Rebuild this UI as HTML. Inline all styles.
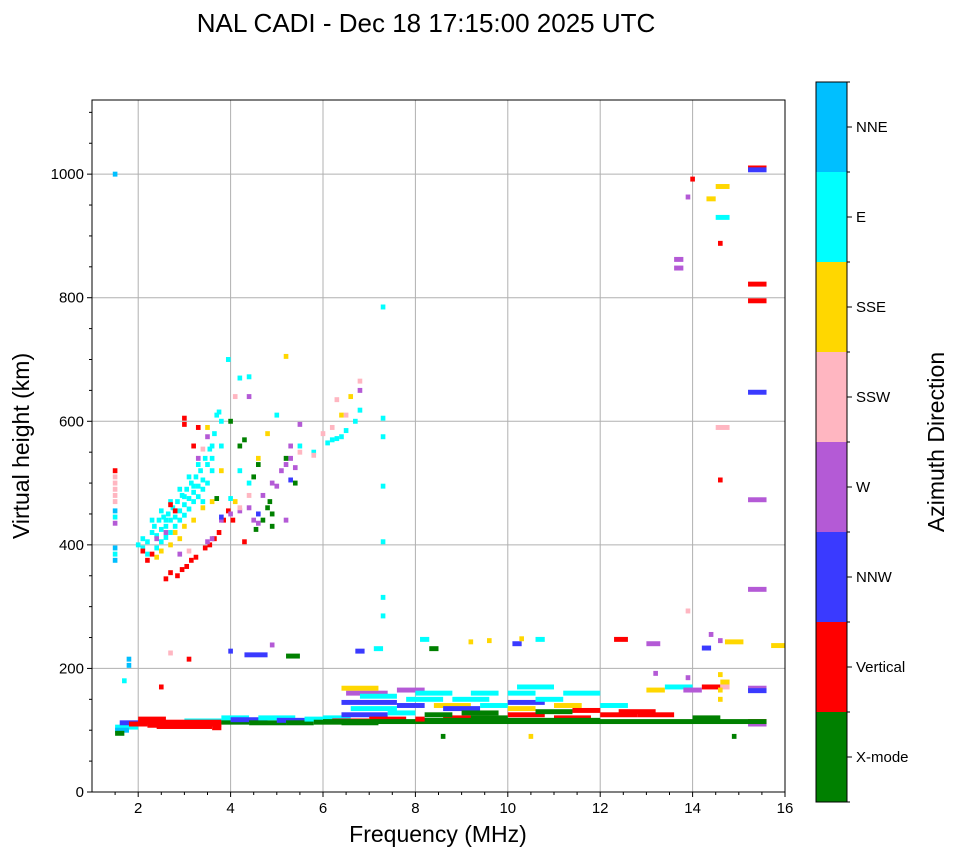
<!DOCTYPE html>
<html><head><meta charset="utf-8">
<style>
body{margin:0;background:#fff;font-family:"Liberation Sans","DejaVu Sans",sans-serif;}
svg text{font-family:"Liberation Sans","DejaVu Sans",sans-serif;}
</style></head>
<body>
<svg id="chart" width="958" height="857" viewBox="0 0 958 857" xmlns="http://www.w3.org/2000/svg">
<rect x="0" y="0" width="958" height="857" fill="#fff"/>
<text x="426" y="32" font-size="26" text-anchor="middle">NAL CADI - Dec 18 17:15:00 2025 UTC</text>
<g id="grid"></g>
<g id="marks"></g>
<rect x="92" y="100" width="693" height="692" fill="none" stroke="#000" stroke-width="1"/>
<g id="axes"></g>
<text x="438" y="842" font-size="23" text-anchor="middle">Frequency (MHz)</text>
<text transform="translate(29,446) rotate(-90)" font-size="23" text-anchor="middle">Virtual height (km)</text>
<g id="cbar"></g>
<text transform="translate(944,442) rotate(-90)" font-size="23" text-anchor="middle">Azimuth Direction</text>
</svg>
<script>
const xTicks=[2,4,6,8,10,12,14,16];
const yTicks=[0,200,400,600,800,1000];
const dirLabels=["X-mode","Vertical","NNW","W","SSW","SSE","E","NNE"];
const dirColors=["#008000","#ff0000","#3a3aff","#b45ad6","#ffb6c1","#ffd700","#00ffff","#00bfff"];
// cells: [freq MHz, height km, direction index]
const cells=[
[1.5,1000,7],[1.5,520,1],[1.5,510,4],[1.5,500,4],[1.5,490,4],[1.5,480,4],[1.5,470,4],[1.5,455,7],[1.5,445,6],[1.5,435,3],[1.5,395,7],[1.5,385,6],[1.5,375,7],[1.8,215,7],[1.8,205,7],[1.7,180,6],
[2.0,400,6],[2.1,410,6],[2.2,405,6],[2.3,420,6],[2.35,430,6],[2.4,415,6],[2.45,440,6],[2.5,425,6],[2.55,445,6],[2.6,430,6],[2.65,450,6],[2.7,440,6],[2.75,460,6],[2.8,445,6],[2.85,470,6],[2.9,455,6],[2.95,480,6],[3.0,465,6],[3.05,490,6],[3.1,475,6],[3.15,500,6],[3.2,485,6],[3.25,510,6],[3.3,495,6],[3.35,520,6],[3.4,505,6],[3.45,540,6],[3.5,530,6],[3.55,555,6],[3.6,560,6],[3.65,580,6],[3.7,610,6],[3.75,615,6],[3.95,700,6],[2.4,395,6],[2.5,405,6],[2.6,412,6],[2.7,420,6],[2.8,430,6],[2.9,440,6],[3.0,448,6],[3.1,458,6],[3.2,470,6],[3.3,478,6],[3.4,490,6],[2.3,440,6],[2.5,455,6],[2.7,470,6],[2.9,490,6],[3.1,510,6],[3.3,530,6],[3.5,500,6],[3.6,540,6],[4.2,670,6],[4.4,672,6],[4.0,475,6],[4.2,520,6],[4.4,500,6],[5.0,610,6],[5.5,560,6],[5.8,550,6],[6.1,565,6],[6.2,570,6],[6.3,572,6],[6.4,575,6],[6.5,585,6],[6.7,600,6],[6.8,618,6],[7.3,785,6],[7.3,605,6],[7.3,575,6],[7.3,495,6],[7.3,405,6],[7.3,315,6],[7.3,285,6],[2.2,385,6],[2.1,395,6],[2.6,440,6],[2.8,455,6],[3.0,478,6],[3.2,495,6],[3.4,470,6],[3.6,520,6],[3.8,560,6],[3.8,600,6],
[2.4,380,5],[2.5,390,5],[2.7,400,5],[2.8,420,5],[2.9,410,5],[3.0,430,5],[3.2,440,5],[3.4,460,5],[3.6,470,5],[3.8,520,5],[3.5,590,5],[4.1,470,5],[4.6,540,5],[4.8,580,5],[5.2,705,5],[6.4,610,5],[6.6,640,5],[14.6,165,5],[14.6,150,5],[14.6,190,5],[9.6,245,5],[10.3,248,5],[9.2,243,5],[10.5,90,5],
[2.6,345,1],[2.7,355,1],[2.85,350,1],[2.95,360,1],[3.05,365,1],[3.15,375,1],[3.25,380,1],[3.45,395,1],[3.55,400,1],[3.65,410,1],[3.75,420,1],[3.85,440,1],[3.95,455,1],[4.05,440,1],[2.1,390,1],[2.2,375,1],[2.3,385,1],[3.0,605,1],[3.0,595,1],[3.2,560,1],[2.7,465,1],[2.8,455,1],[3.3,590,1],[4.3,405,1],[2.5,170,1],[3.1,215,1],[14.0,992,1],[14.6,888,1],[14.6,505,1],
[2.4,410,3],[2.6,420,3],[2.9,385,3],[3.3,540,3],[3.5,575,3],[3.6,410,3],[3.5,405,3],[3.8,440,3],[4.0,450,3],[4.2,455,3],[4.4,460,3],[4.5,440,3],[4.6,435,3],[4.7,480,3],[4.9,500,3],[5.0,495,3],[5.1,520,3],[5.2,530,3],[5.3,540,3],[5.4,525,3],[5.5,595,3],[5.2,440,3],[4.4,640,3],[5.3,560,3],[6.8,650,3],[13.9,963,3],[14.6,245,3],[14.4,255,3],[13.2,192,3],[13.9,185,3],[4.9,238,3],
[3.1,390,4],[3.4,555,4],[4.2,460,4],[4.4,480,4],[5.8,545,4],[6.0,580,4],[6.2,590,4],[6.3,635,4],[6.8,665,4],[6.5,610,4],[13.9,293,4],[5.5,550,4],[4.1,640,4],[2.7,225,4],
[3.8,445,2],[4.6,450,2],[5.3,505,2],
[4.8,460,0],[4.85,470,0],[4.9,450,0],[4.7,440,0],[4.0,600,0],[4.2,560,0],[4.5,510,0],[4.3,570,0],[5.2,540,0],[5.4,500,0],[3.7,475,0],[4.9,430,0],[4.55,425,0],[4.6,530,0],[8.6,90,0],[14.9,90,0]
];
// segments: [freq start, freq end, height km, direction index]
const segs=[
[15.2,15.6,1010,1],[15.2,15.6,1007,2],[15.2,15.6,822,1],[15.2,15.6,795,1],[15.2,15.6,647,2],[15.2,15.6,473,3],[15.2,15.6,328,3],[13.6,13.8,862,3],[13.6,13.8,848,3],[14.5,14.8,930,6],[14.3,14.5,960,5],[14.5,14.8,980,5],[14.5,14.8,590,4],[15.7,16,237,5],[14.7,15.1,243,5],[15.2,15.6,168,3],[15.2,15.6,164,2],[15.2,15.6,114,1],[15.2,15.6,110,3],
[1.5,2.0,105,6],[1.5,1.8,100,7],[1.5,1.7,95,0],[1.6,2.0,112,2],[1.8,2.2,110,1],[2.0,2.6,118,1],[2.2,2.8,108,1],[2.6,3.2,112,2],[2.8,3.4,108,1],[3.0,3.8,115,6],[3.2,3.8,110,1],[3.6,3.8,104,1],[2.0,3.8,113,1],[2.4,3.6,106,1],[3.8,4.4,113,0],[3.8,4.4,120,6],[4.0,4.8,117,2],[4.4,5.2,112,0],[4.6,5.4,120,6],[5.0,5.6,116,2],[5.2,5.8,112,0],[5.6,6.0,118,6],[5.8,6.4,113,0],[6.0,6.6,120,6],[6.2,7.0,115,1],[6.4,7.2,112,0],[6.4,7.4,125,2],[6.6,7.6,135,6],[6.4,7.6,145,2],[6.5,7.4,160,3],[6.4,7.2,168,5],[6.8,7.6,155,6],[7.0,7.8,118,1],[7.4,8.0,128,6],[7.6,8.2,140,2],[7.6,8.2,165,3],[7.8,8.6,150,6],[8.0,8.8,160,6],[8.4,9.2,140,5],[8.6,9.4,135,2],[8.8,9.6,150,6],[8.6,9.6,120,1],[9.0,9.8,128,0],[9.2,9.8,160,6],[9.4,10.0,140,6],[10.0,10.8,125,1],[10.0,10.6,135,5],[10.0,10.8,145,2],[10.0,10.6,160,6],[10.2,11.0,170,6],[10.6,11.4,130,0],[10.6,11.2,150,6],[11.0,11.8,120,1],[11.0,11.6,140,5],[11.2,12.0,160,6],[11.4,12.0,132,1],[12.0,12.8,125,1],[12.0,12.6,140,6],[12.4,13.2,130,1],[12.8,13.6,125,1],[13.0,13.4,165,5],[13.4,14.0,170,6],[13.8,14.2,165,3],[14.2,14.6,170,1],[14.0,14.6,120,0],[14.6,14.8,178,5],[14.6,14.8,170,4],[6.0,15.6,114,0],[8.0,12.0,116,0],[13.0,13.3,240,3],[12.3,12.6,247,1],[14.2,14.4,233,2],[8.1,8.3,247,6],[8.3,8.5,232,0],[10.1,10.3,240,2],[10.6,10.8,247,6],[3.95,4.05,228,2],[4.3,4.8,222,2],[5.2,5.5,220,0],[6.7,6.9,228,2],[7.1,7.3,232,6],[8.0,8.2,118,1],[8.2,8.8,125,0],[9.2,10,120,0]
];
const NS="http://www.w3.org/2000/svg";
const X0=92,X1=785,Y0=792,Y1=100,FMIN=1,FMAX=16,HMIN=0,HMAX=1120;
function xs(f){return X0+(f-FMIN)/(FMAX-FMIN)*(X1-X0);}
function ys(h){return Y0-(h-HMIN)/(HMAX-HMIN)*(Y0-Y1);}
function mk(tag,attrs,parent){const e=document.createElementNS(NS,tag);for(const k in attrs)e.setAttribute(k,attrs[k]);parent.appendChild(e);return e;}
const grid=document.getElementById('grid'),marks=document.getElementById('marks'),axes=document.getElementById('axes'),cbar=document.getElementById('cbar');
xTicks.forEach(t=>{const x=xs(t);
 const g=mk('line',{x1:x,x2:x,y1:Y1,y2:Y0,stroke:'#b0b0b0','stroke-width':1},grid);
 
 
 mk('line',{x1:x,x2:x,y1:Y0,y2:Y0+5,stroke:'#000'},axes);
 const tx=mk('text',{x:x,y:Y0+21,'font-size':15,'text-anchor':'middle'},axes);tx.textContent=t;
 
 
});
for(let f=1.5;f<16;f+=0.5){if(f%2===0)continue;const x=xs(f);mk('line',{x1:x,x2:x,y1:Y0,y2:Y0+3,stroke:'#000'},axes);}
yTicks.forEach(t=>{const y=ys(t);
 const g=mk('line',{x1:X0,x2:X1,y1:y,y2:y,stroke:'#b0b0b0','stroke-width':1},grid);
 
 
 mk('line',{x1:X0-5,x2:X0,y1:y,y2:y,stroke:'#000'},axes);
 const tx=mk('text',{x:X0-8,y:y+5,'font-size':15,'text-anchor':'end'},axes);tx.textContent=t;
 
 
});
for(let h=50;h<HMAX;h+=50){if(h%200===0)continue;const y=ys(h);mk('line',{x1:X0-3,x2:X0,y1:y,y2:y,stroke:'#000'},axes);}
const cw=xs(1.1)-xs(1),ch=ys(0)-ys(8);
segs.forEach(s=>{
 const r=mk('rect',{x:xs(s[0]),y:ys(s[2])-ch/2,width:xs(s[1])-xs(s[0]),height:ch,fill:dirColors[s[3]]},marks);
 
 
});
cells.forEach(c=>{
 const r=mk('rect',{x:xs(c[0])-cw/2,y:ys(c[1])-ch/2,width:cw,height:ch,fill:dirColors[c[2]]},marks);
 
 
});
const CX=816,CW=31,CT=82,CB=802,n=dirLabels.length,seg=(CB-CT)/n;
dirLabels.forEach((lab,i)=>{
 const y0=CB-(i+1)*seg;
 const r=mk('rect',{x:CX,y:y0,width:CW,height:seg,fill:dirColors[i]},cbar);
 
 
 mk('line',{x1:CX+CW,x2:CX+CW+5,y1:y0+seg/2,y2:y0+seg/2,stroke:'#000'},cbar);
 const t=mk('text',{x:CX+CW+9,y:y0+seg/2+5,'font-size':15},cbar);t.textContent=lab;
 
 
});
for(let i=0;i<=n;i++){const y=CT+i*seg;mk('line',{x1:CX+CW,x2:CX+CW+3,y1:y,y2:y,stroke:'#000'},cbar);}
mk('rect',{x:CX,y:CT,width:CW,height:CB-CT,fill:'none',stroke:'#000'},cbar);
</script>
</body></html>
